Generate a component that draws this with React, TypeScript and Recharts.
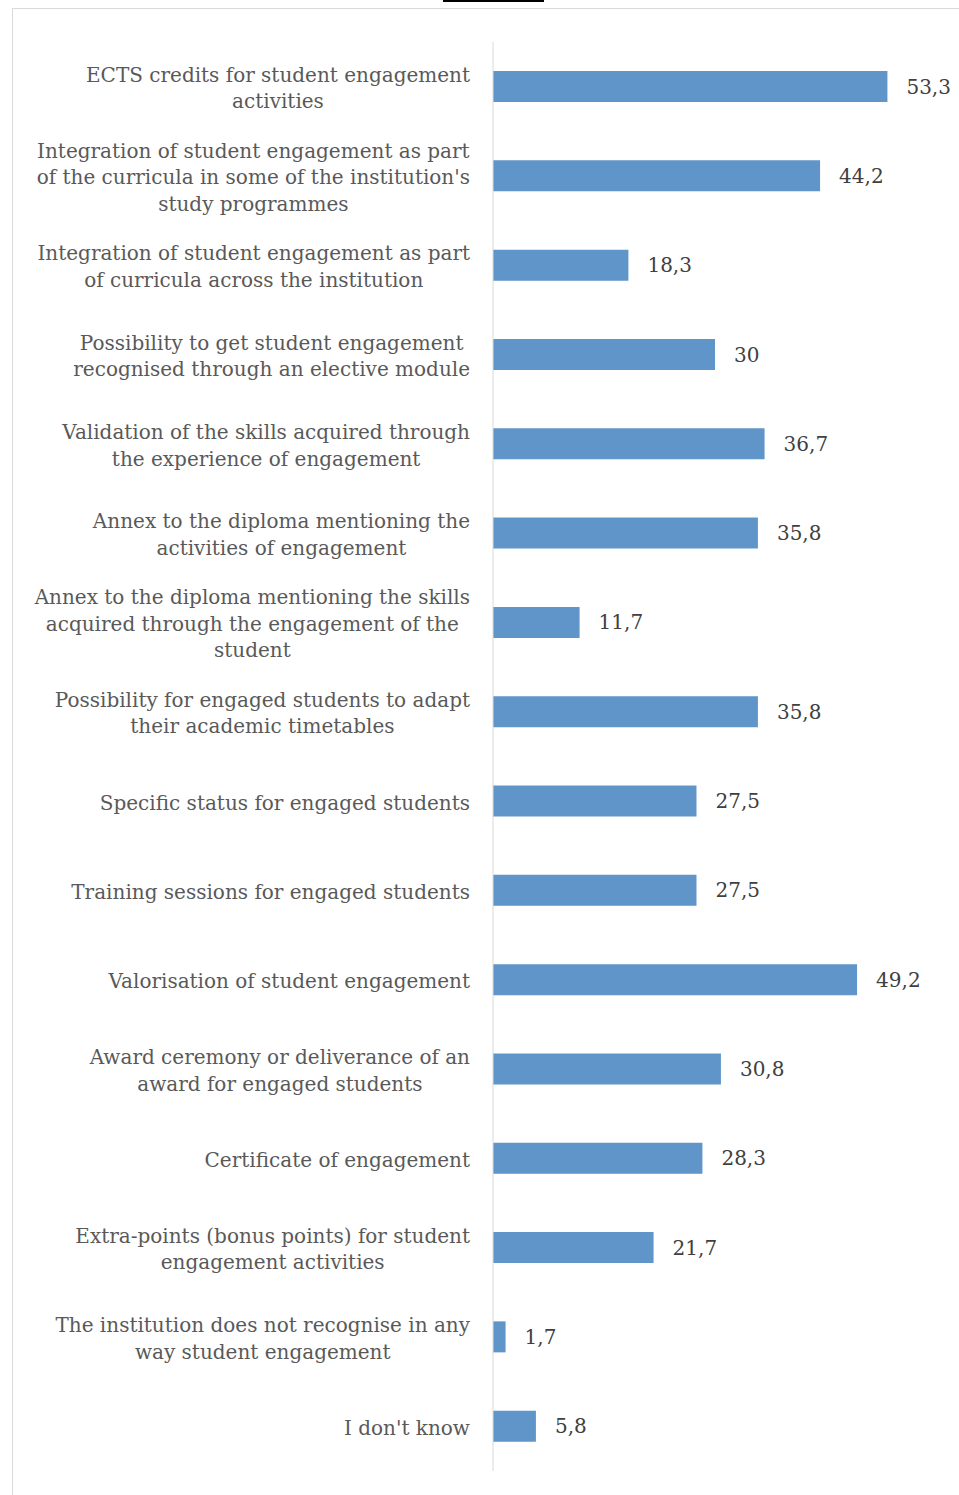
import React from "react"
import { BarChart, Bar, XAxis, YAxis, LabelList } from "recharts"

const categories = [
  "ECTS credits for student engagement\nactivities",
  "Integration of student engagement as part\nof the curricula in some of the institution's\nstudy programmes",
  "Integration of student engagement as part\nof curricula across the institution",
  "Possibility to get student engagement\nrecognised through an elective module",
  "Validation of the skills acquired through\nthe experience of engagement",
  "Annex to the diploma mentioning the\nactivities of engagement",
  "Annex to the diploma mentioning the skills\nacquired through the engagement of the\nstudent",
  "Possibility for engaged students to adapt\ntheir academic timetables",
  "Specific status for engaged students",
  "Training sessions for engaged students",
  "Valorisation of student engagement",
  "Award ceremony or deliverance of an\naward for engaged students",
  "Certificate of engagement",
  "Extra-points (bonus points) for student\nengagement activities",
  "The institution does not recognise in any\nway student engagement",
  "I don't know",
]

const values = [53.3, 44.2, 18.3, 30, 36.7, 35.8, 11.7, 35.8, 27.5, 27.5, 49.2, 30.8, 28.3, 21.7, 1.7, 5.8]

const data = categories.map((name, i) => ({ name, value: values[i] }))

const FONT = "DejaVu Serif"
const FONT_SIZE = 20
const LINE_HEIGHT = 26.5

let ctx: CanvasRenderingContext2D | null = null
const measure = (s: string) => {
  if (!ctx) ctx = document.createElement("canvas").getContext("2d")
  if (!ctx) return s.length * FONT_SIZE * 0.5
  ctx.font = `${FONT_SIZE}px "${FONT}"`
  return ctx.measureText(s).width
}

// multi-line labels: lines centred on each other, block right-aligned to the axis
const CategoryTick = ({ x, y, payload }: any) => {
  const lines = String(payload.value).split("\n")
  const widest = Math.max(...lines.map(measure))
  const cx = x - 23 - widest / 2
  return (
    <text x={cx} y={y} textAnchor="middle" fill="#595959" fontFamily={FONT} fontSize={FONT_SIZE}>
      {lines.map((l, i) => (
        <tspan key={i} x={cx} y={y + (i - (lines.length - 1) / 2) * LINE_HEIGHT} dy="0.42em">
          {l}
        </tspan>
      ))}
    </text>
  )
}

const App = () => (
  <div>
    <div style={{ position: "fixed", top: 0, left: 443, width: 101, height: 2, background: "#000" }} />
    <div
      style={{
        position: "fixed",
        top: 8,
        left: 12,
        width: 960,
        height: 1500,
        borderTop: "1px solid #d9d9d9",
        borderLeft: "1px solid #d9d9d9",
        background: "#fff",
      }}
    >
      <BarChart
        width={945}
        height={1486}
        data={data}
        layout="vertical"
        margin={{ top: 33, right: 21, bottom: 24, left: 0 }}
        barSize={31}
      >
        <XAxis type="number" domain={[0, 60]} hide />
        <YAxis
          type="category"
          dataKey="name"
          width={480}
          axisLine={{ stroke: "#d9d9d9" }}
          tickLine={false}
          tickSize={0}
          tickMargin={0}
          interval={0}
          tick={<CategoryTick />}
        />
        <Bar dataKey="value" fill="#5f95c9" isAnimationActive={false}>
          <LabelList
            dataKey="value"
            position="right"
            offset={19}
            fill="#404040"
            fontFamily={FONT}
            fontSize={FONT_SIZE}
            formatter={(v: any) => String(v).replace(".", ",")}
          />
        </Bar>
      </BarChart>
    </div>
  </div>
)

export default App
